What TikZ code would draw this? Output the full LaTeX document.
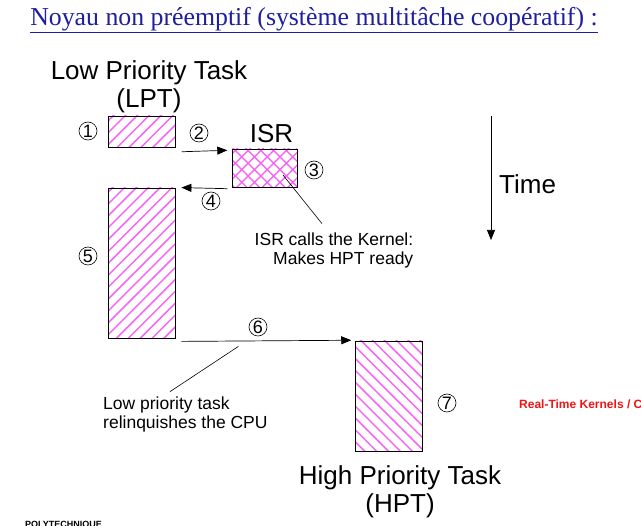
\documentclass[tikz,border=0pt]{standalone}
\usepackage{fontspec}
\setmainfont{Liberation Serif}
\setsansfont{Liberation Sans}
\usetikzlibrary{arrows.meta,positioning,calc,patterns.meta}
\definecolor{titleblue}{RGB}{30,30,160}
\definecolor{hatchpink}{RGB}{248,100,248}
\definecolor{notered}{RGB}{240,20,20}

\begin{document}
\begin{tikzpicture}[x=1pt,y=-1pt,>={Triangle[length=10pt,width=8pt]},font=\sffamily,
  taskbox/.style={draw,line width=0.8pt,inner sep=0pt,pattern color=hatchpink},
  stepnum/.style={draw,circle,line width=0.6pt,inner sep=0pt,minimum size=18pt,font=\sffamily\fontsize{18}{18}\selectfont},
  flow/.style={->,line width=0.7pt},
  lead/.style={line width=0.6pt},
  bigtext/.style={font=\sffamily\fontsize{26}{28}\selectfont,align=center,inner sep=0pt},
  note/.style={font=\sffamily\fontsize{17.5}{19}\selectfont,inner sep=0pt}]
  \useasboundingbox (0,0) rectangle (641,526);
  \node[font=\rmfamily\fontsize{25.8}{26}\selectfont,text=titleblue,inner sep=0pt] (title) at (314,20) {\underline{Noyau non préemptif (système multitâche coopératif) :}};
  % tasks
  \node[bigtext] (lptlabel) at (149,87) {Low Priority Task\\(LPT)};
  \node[taskbox,minimum width=67pt,minimum height=31pt,pattern={Lines[angle=45,distance=8.4pt,line width=1.5pt]}] (lpt1) at (141.5,131.5) {};
  \node[taskbox,minimum width=65pt,minimum height=38pt,pattern={Hatch[angle=45,distance=9pt,line width=1.4pt]}] (isr) at (264.5,168) {};
  \node[bigtext,anchor=south] (isrlabel) at ($(isr.north)+(7,-5)$) {ISR};
  \node[taskbox,minimum width=67pt,minimum height=150pt,pattern={Lines[angle=45,distance=8.4pt,line width=1.5pt]}] (lpt2) at (141.5,263) {};
  \node[taskbox,minimum width=67pt,minimum height=110pt,pattern={Lines[angle=-45,distance=8.4pt,line width=1.5pt]}] (hpt) at (388.5,396) {};
  \node[bigtext] (hptlabel) at (400,492) {High Priority Task\\(HPT)};
  % steps
  \node[stepnum] (n1) at (88,131) {1};
  \node[stepnum] (n2) at (199,133) {2};
  \node[stepnum] (n3) at (314,170) {3};
  \node[stepnum] (n4) at (211,201) {4};
  \node[stepnum] (n5) at (88,256) {5};
  \node[stepnum] (n6) at (258,327) {6};
  \node[stepnum] (n7) at (447,403) {7};
  \draw[flow] ($(lpt1.south east)+(6,4)$) -- ($(isr.north west)+(-4,2)$);
  \draw[flow] ($(isr.south west)+(-4,1)$) -- ($(lpt2.north east)+(6,0)$);
  \draw[flow] ($(lpt2.south east)+(6,3)$) -- ($(hpt.north west)+(-3,0)$);
  % notes
  \node[note,align=right] (kernel) at (334,250.5) {ISR calls the Kernel:\\Makes HPT ready};
  \draw[lead] ($(isr.center)+(18.5,7)$) -- ($(kernel.north)+(-12,-9)$);
  \node[note,align=left,anchor=west] (relinq) at (103,414.5) {Low priority task\\relinquishes the CPU};
  \draw[lead] ($(lpt2.south east)+(63,8)$) -- ($(relinq.north west)+(67,-5)$);
  % time axis
  \coordinate (tstart) at (491,116);
  \coordinate (tend) at (491,240);
  \draw[flow] (tstart) -- (tend);
  \node[font=\sffamily\fontsize{26}{28}\selectfont,anchor=west,inner sep=0pt] (timelabel) at (499,184) {Time};
  \node[font=\sffamily\bfseries\fontsize{12}{14}\selectfont,text=notered,anchor=west,inner sep=0pt] (footer) at (519,404) {Real-Time Kernels / C};
  \node[font=\sffamily\bfseries\fontsize{9}{10}\selectfont,anchor=base west,inner sep=0pt] (school) at (25,528) {POLYTECHNIQUE};
\end{tikzpicture}
\end{document}
